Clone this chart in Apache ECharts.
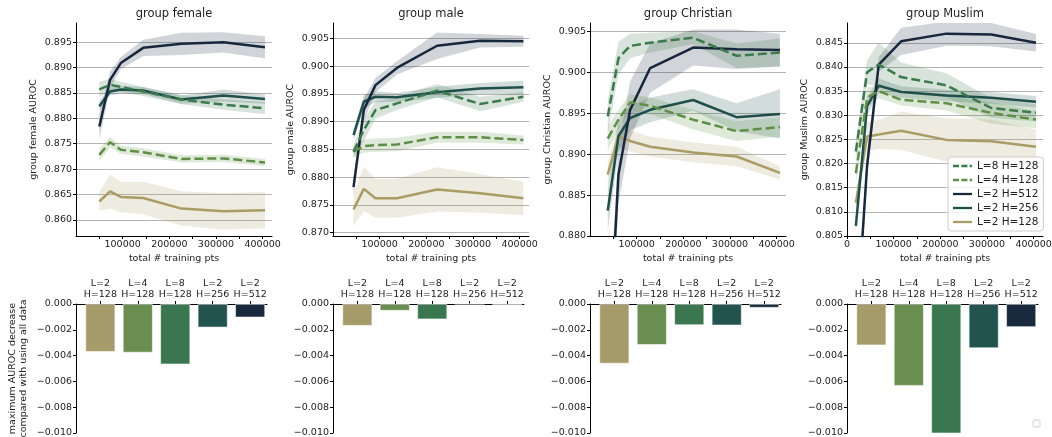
<!DOCTYPE html>
<html><head><meta charset="utf-8">
<script src="https://cdn.jsdelivr.net/npm/echarts@6/dist/echarts.min.js"></script>
<style>html,body{margin:0;padding:0;background:#fff}#c{width:1052px;height:437px}</style>
</head><body><div id="c"></div>
<script>
// ---------------- data ----------------
const seriesNames = ['L=8 H=128', 'L=4 H=128', 'L=2 H=512', 'L=2 H=256', 'L=2 H=128'];
const groupNames = ['female', 'male', 'Christian', 'Muslim'];
const barCategories = ['L=2\nH=128', 'L=4\nH=128', 'L=8\nH=128', 'L=2\nH=256', 'L=2\nH=512'];

const xFemale = [50000, 73000, 96000, 144000, 226000, 316000, 405000];
const femaleL8 = [0.8857, 0.8866, 0.8862, 0.8853, 0.8837, 0.8827, 0.8820];
const femaleL4 = [0.8728, 0.8753, 0.8738, 0.8733, 0.8720, 0.8721, 0.8713];
const femaleH512 = [0.8784, 0.8876, 0.8909, 0.8939, 0.8947, 0.8950, 0.8940];
const femaleH256 = [0.8824, 0.8853, 0.8857, 0.8855, 0.8837, 0.8845, 0.8838];
const femaleH128 = [0.8636, 0.8656, 0.8645, 0.8643, 0.8622, 0.8617, 0.8619];
const femaleL8Err = [0.0015, 0.0012, 0.0010, 0.0009, 0.0009, 0.0010, 0.0012];
const femaleL4Err = [0.0012, 0.0010, 0.0008, 0.0008, 0.0007, 0.0007, 0.0007];
const femaleH512Err = [0.0025, 0.0016, 0.0012, 0.0016, 0.0022, 0.0020, 0.0022];
const femaleH256Err = [0.0010, 0.0008, 0.0007, 0.0007, 0.0008, 0.0012, 0.0009];
const femaleH128Err = [0.0018, 0.0034, 0.0030, 0.0032, 0.0034, 0.0036, 0.0036];

const xMale = [44000, 66000, 91000, 137000, 223000, 315000, 408000];
const maleL8 = [0.8846, 0.8885, 0.8921, 0.8933, 0.8956, 0.8932, 0.8945];
const maleL4 = [0.8846, 0.8856, 0.8858, 0.8859, 0.8872, 0.8872, 0.8867];
const maleH512 = [0.8782, 0.8921, 0.8966, 0.8997, 0.9037, 0.9046, 0.9045];
const maleH256 = [0.8876, 0.8936, 0.8945, 0.8944, 0.8953, 0.8960, 0.8962];
const maleH128 = [0.8742, 0.8779, 0.8762, 0.8762, 0.8778, 0.8771, 0.8762];
const maleL8Err = [0.0012, 0.0020, 0.0015, 0.0012, 0.0012, 0.0013, 0.0009];
const maleL4Err = [0.0010, 0.0012, 0.0012, 0.0012, 0.0010, 0.0010, 0.0008];
const maleH512Err = [0.0015, 0.0020, 0.0013, 0.0012, 0.0024, 0.0012, 0.0010];
const maleH256Err = [0.0010, 0.0012, 0.0010, 0.0008, 0.0010, 0.0010, 0.0012];
const maleH128Err = [0.0030, 0.0040, 0.0035, 0.0035, 0.0040, 0.0035, 0.0030];

const xChristian = [38000, 61000, 86000, 129000, 221000, 314000, 407000];
const christianL8 = [0.8946, 0.9017, 0.9032, 0.9036, 0.9042, 0.9020, 0.9024];
const christianL4 = [0.8919, 0.8942, 0.8963, 0.8959, 0.8942, 0.8928, 0.8933];
const christianH512 = [0.8630, 0.8875, 0.8954, 0.9005, 0.9030, 0.9028, 0.9027];
const christianH256 = [0.8831, 0.8922, 0.8944, 0.8954, 0.8966, 0.8945, 0.8949];
const christianH128 = [0.8875, 0.8922, 0.8916, 0.8909, 0.8902, 0.8897, 0.8877];
const christianL8Err = [0.0020, 0.0020, 0.0015, 0.0012, 0.0008, 0.0015, 0.0017];
const christianL4Err = [0.0015, 0.0012, 0.0010, 0.0010, 0.0012, 0.0012, 0.0012];
const christianH512Err = [0.0040, 0.0035, 0.0035, 0.0030, 0.0022, 0.0024, 0.0020];
const christianH256Err = [0.0025, 0.0020, 0.0015, 0.0015, 0.0013, 0.0017, 0.0030];
const christianH128Err = [0.0015, 0.0015, 0.0013, 0.0012, 0.0012, 0.0012, 0.0008];

const xMuslim = [19000, 43000, 68000, 116000, 213000, 309000, 405000];
const muslimL8 = [0.8225, 0.8389, 0.8405, 0.8379, 0.8362, 0.8315, 0.8305];
const muslimL4 = [0.8180, 0.8336, 0.8350, 0.8332, 0.8325, 0.8305, 0.8291];
const muslimH512 = [0.7840, 0.8195, 0.8405, 0.8453, 0.8469, 0.8467, 0.8450];
const muslimH256 = [0.8071, 0.8319, 0.8361, 0.8348, 0.8341, 0.8336, 0.8328];
const muslimH128 = [0.8119, 0.8256, 0.8260, 0.8268, 0.8249, 0.8246, 0.8235];
const muslimL8Err = [0.0020, 0.0025, 0.0045, 0.0030, 0.0025, 0.0020, 0.0018];
const muslimL4Err = [0.0020, 0.0020, 0.0015, 0.0012, 0.0015, 0.0022, 0.0018];
const muslimH512Err = [0.0030, 0.0025, 0.0015, 0.0028, 0.0025, 0.0024, 0.0018];
const muslimH256Err = [0.0010, 0.0020, 0.0015, 0.0012, 0.0012, 0.0012, 0.0012];
const muslimH128Err = [0.0015, 0.0030, 0.0030, 0.0040, 0.0045, 0.0045, 0.0035];

const barsFemale = [-0.00371, -0.00377, -0.00468, -0.00182, -0.00104];
const barsMale = [-0.00169, -0.00052, -0.00119, 0, -0.0001];
const barsChristian = [-0.00462, -0.00317, -0.00164, -0.00166, -0.00029];
const barsMuslim = [-0.0032, -0.00634, -0.0105, -0.00343, -0.00179];

const yTicksFemale = [0.860, 0.865, 0.870, 0.875, 0.880, 0.885, 0.890, 0.895];
const yTicksMale = [0.870, 0.875, 0.880, 0.885, 0.890, 0.895, 0.900, 0.905];
const yTicksChristian = [0.880, 0.885, 0.890, 0.895, 0.900, 0.905];
const yTicksMuslim = [0.805, 0.810, 0.815, 0.820, 0.825, 0.830, 0.835, 0.840, 0.845];
const xTickLabels = [100000, 200000, 300000, 400000];
const xTickLabelsMuslim = [0, 100000, 200000, 300000, 400000];
const xTickMarks = [50000, 100000, 150000, 200000, 250000, 300000, 350000, 400000];
const xTickMarksMuslim = [0, 50000, 100000, 150000, 200000, 250000, 300000, 350000, 400000];
const barTickValues = [0, 1, 2, 3, 4];

// ---------------- assembly ----------------
const panels = [
  { x: xFemale, means: [femaleL8, femaleL4, femaleH512, femaleH256, femaleH128],
    errs: [femaleL8Err, femaleL4Err, femaleH512Err, femaleH256Err, femaleH128Err],
    yTicks: yTicksFemale, xLabels: xTickLabels, xMarks: xTickMarks, bars: barsFemale },
  { x: xMale, means: [maleL8, maleL4, maleH512, maleH256, maleH128],
    errs: [maleL8Err, maleL4Err, maleH512Err, maleH256Err, maleH128Err],
    yTicks: yTicksMale, xLabels: xTickLabels, xMarks: xTickMarks, bars: barsMale },
  { x: xChristian, means: [christianL8, christianL4, christianH512, christianH256, christianH128],
    errs: [christianL8Err, christianL4Err, christianH512Err, christianH256Err, christianH128Err],
    yTicks: yTicksChristian, xLabels: xTickLabels, xMarks: xTickMarks, bars: barsChristian },
  { x: xMuslim, means: [muslimL8, muslimL4, muslimH512, muslimH256, muslimH128],
    errs: [muslimL8Err, muslimL4Err, muslimH512Err, muslimH256Err, muslimH128Err],
    yTicks: yTicksMuslim, xLabels: xTickLabelsMuslim, xMarks: xTickMarksMuslim, bars: barsMuslim }
];
const yRanges = [[0.8568, 0.8988], [0.8694, 0.9078], [0.880, 0.906], [0.805, 0.8491]];

const FONT = 'DejaVu Sans';
const TXT = '#222';
const lineColors = ['#3a7a4b', '#5f8f47', '#17273c', '#1f4f4b', '#a99c65'];
const bandColors = ['rgba(58,122,75,0.2)', 'rgba(95,143,71,0.2)', 'rgba(23,39,60,0.2)', 'rgba(31,79,75,0.2)', 'rgba(169,156,101,0.2)'];
const dashed = [true, true, false, false, false];
const barColors = ['#a69b6a', '#6a8e50', '#3a7750', '#22534f', '#1a2a3e'];
const lefts = [76, 333, 590, 847];
const drawOrder = [4, 3, 2, 1, 0];

const grid = [], xAxis = [], yAxis = [], series = [];
const labelStyle = { fontFamily: FONT, fontSize: 9.5, color: TXT };

function bandSeries(i, k, xs, m, e) {
  const data = xs.map((xv, j) => [xv, m[j] - e[j], m[j] + e[j]]);
  return {
    type: 'custom', name: 'band_' + i + '_' + k, xAxisIndex: i, yAxisIndex: i, z: 1, silent: true,
    encode: { x: 0, y: [1, 2] }, data,
    renderItem: function (params, api) {
      if (params.dataIndex !== 0) return;
      const pts = [];
      for (let j = 0; j < data.length; j++) pts.push(api.coord([data[j][0], data[j][2]]));
      for (let j = data.length - 1; j >= 0; j--) pts.push(api.coord([data[j][0], data[j][1]]));
      const cs = params.coordSys;
      return {
        type: 'polygon', shape: { points: pts },
        style: { fill: bandColors[k] },
        clipPath: { type: 'rect', shape: { x: cs.x, y: cs.y, width: cs.width, height: cs.height } }
      };
    }
  };
}

panels.forEach((p, i) => {
  grid.push({ left: lefts[i], top: 23, width: 196, height: 213, containLabel: false, outerBoundsMode: 'none' });
  xAxis.push({
    type: 'value', gridIndex: i, min: 0, max: 420000, position: 'bottom',
    axisLine: { show: true, onZero: false, lineStyle: { color: '#000', width: 1 } },
    axisTick: { show: true, customValues: p.xMarks, length: 3, lineStyle: { color: '#000' } },
    axisLabel: Object.assign({ customValues: p.xLabels, margin: 4, formatter: v => String(v) }, labelStyle),
    splitLine: { show: false },
    name: 'total # training pts', nameLocation: 'middle', nameGap: 18,
    nameTextStyle: { fontFamily: FONT, fontSize: 9.5, color: TXT }
  });
  yAxis.push({
    type: 'value', gridIndex: i, min: yRanges[i][0], max: yRanges[i][1],
    axisLine: { show: true, onZero: false, lineStyle: { color: '#000', width: 1 } },
    axisTick: { show: true, customValues: p.yTicks, length: 3, lineStyle: { color: '#000' } },
    axisLabel: Object.assign({ customValues: p.yTicks, margin: 4, formatter: v => v.toFixed(3) }, labelStyle),
    splitLine: { show: true, lineStyle: { color: '#b4b4b4', width: 1 } },
    name: 'group ' + groupNames[i] + ' AUROC', nameLocation: 'middle', nameGap: 37,
    nameTextStyle: { fontFamily: FONT, fontSize: 9.5, color: TXT }
  });
  drawOrder.forEach(k => series.push(bandSeries(i, k, p.x, p.means[k], p.errs[k])));
  drawOrder.forEach(k => {
    series.push({
      type: 'line', name: seriesNames[k], xAxisIndex: i, yAxisIndex: i,
      color: lineColors[k], symbol: 'none', z: 3, clip: true,
      lineStyle: { color: lineColors[k], width: 2.5, type: dashed[k] ? [9, 4] : 'solid', cap: 'butt' },
      data: p.x.map((xv, j) => [xv, p.means[k][j]])
    });
  });
});

panels.forEach((p, i) => {
  const gi = 4 + i;
  grid.push({ left: lefts[i], top: 304, width: 191, height: 129, containLabel: false, outerBoundsMode: 'none' });
  xAxis.push({
    type: 'value', gridIndex: gi, min: -0.65, max: 4.45, position: 'top',
    axisLine: { show: true, onZero: false, lineStyle: { color: '#000', width: 1 } },
    axisTick: { show: true, customValues: barTickValues, length: 3, lineStyle: { color: '#000' } },
    axisLabel: Object.assign({ customValues: barTickValues, margin: 4, lineHeight: 11,
      formatter: v => barCategories[Math.round(v)] }, labelStyle),
    splitLine: { show: false }
  });
  yAxis.push({
    type: 'value', gridIndex: gi, min: -0.01, max: 0, interval: 0.002,
    axisLine: { show: true, onZero: false, lineStyle: { color: '#000', width: 1 } },
    axisTick: { show: true, length: 3, lineStyle: { color: '#000' } },
    axisLabel: Object.assign({ margin: 4, formatter: v => v.toFixed(3).replace('-', '\u2212') }, labelStyle),
    splitLine: { show: false },
    name: i === 0 ? 'maximum AUROC decrease\ncompared with using all data' : '',
    nameLocation: 'middle', nameGap: 47,
    nameTextStyle: { fontFamily: FONT, fontSize: 9.5, color: TXT, lineHeight: 11 }
  });
  series.push({
    type: 'bar', name: 'bars' + i, xAxisIndex: gi, yAxisIndex: gi, barWidth: 30, clip: true,
    data: p.bars.map((v, j) => ({ value: [j, v],
      itemStyle: { color: barColors[j], borderColor: 'rgba(255,255,255,0.7)', borderWidth: 0.8 } }))
  });
});

const dashIcon = 'path://M0,0h8v3h-8zM11,0h8v3h-8zM22,0h3v3h-3z';
const solidIcon = 'path://M0,0h25v3h-25z';

const option = {
  animation: false,
  backgroundColor: '#fff',
  textStyle: { fontFamily: FONT },
  grid, xAxis, yAxis, series,
  legend: {
    orient: 'vertical', left: 948, top: 157, itemWidth: 19, itemHeight: 3, itemGap: 2,
    padding: [3, 5, 3, 5], selectedMode: false,
    backgroundColor: 'rgba(255,255,255,0.85)', borderColor: '#cccccc', borderWidth: 1, borderRadius: 3,
    textStyle: { fontFamily: FONT, fontSize: 10.5, color: TXT, lineHeight: 12 },
    data: seriesNames.map((n, k) => ({ name: n, icon: dashed[k] ? dashIcon : solidIcon }))
  },
  graphic: [
    ...groupNames.map((g, i) => ({
      type: 'text', x: lefts[i] + 98, y: 14,
      style: { text: 'group ' + g, fontFamily: FONT, fontSize: 11.5, fill: TXT, align: 'center', verticalAlign: 'middle' }
    })),
    { type: 'rect', shape: { x: 1033, y: 420, width: 7, height: 7, r: 1.5 },
      style: { fill: '#fff', stroke: '#cccccc', lineWidth: 1 } }
  ]
};

const chart = echarts.init(document.getElementById('c'));
chart.setOption(option);
</script>
</body></html>
